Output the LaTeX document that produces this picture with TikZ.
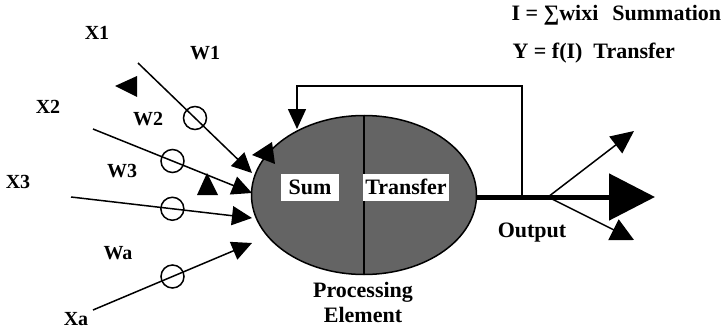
\documentclass[tikz,border=0pt]{standalone}
\usepackage{fontspec}
\setmainfont{Liberation Serif}
\usepackage{tikz}
\usetikzlibrary{shapes.geometric, arrows.meta}
\usepackage{xcolor}

\begin{document}
\begin{tikzpicture}[x=1pt, y=-1pt,
    inlabel/.style={font=\fontsize{20}{22}\selectfont\bfseries},
    biglabel/.style={font=\fontsize{22}{25}\selectfont\bfseries},
    weight/.style={draw, circle, line width=1.5pt, minimum size=23pt, inner sep=0pt},
    inarrow/.style={line width=1.5pt, -{Triangle[length=20pt, width=19pt]}}]
    % Define colors for the element
    \definecolor{pegrey}{RGB}{100,100,100}
    \useasboundingbox (0,0) rectangle (726,329);

    % Draw the processing element (grey ellipse split in two halves)
    \node[draw, ellipse, line width=1.5pt, fill=pegrey, minimum width=225pt, minimum height=159pt, inner sep=0pt] (pe) at (364,195) {};
    \draw[line width=1.5pt] (pe.north) -- (pe.south);

    % Sum and Transfer boxes inside the element
    \node[fill=white, biglabel, minimum width=58pt, minimum height=27pt, inner sep=0pt] (sum) at (310,187) {Sum};
    \node[fill=white, biglabel, minimum width=86pt, minimum height=27pt, inner sep=0pt] (transfer) at (406,187) {Transfer};

    % Label below the element
    \node[biglabel, align=center] (pelabel) at (363,302) {Processing\\Element};

    % Input start points and arrow tips
    \coordinate (x1s) at (138,63);  \coordinate (x1t) at (252,173);
    \coordinate (x2s) at (93,129);  \coordinate (x2t) at (252,193);
    \coordinate (x3s) at (71,197);  \coordinate (x3t) at (252,218);
    \coordinate (xas) at (93,310);  \coordinate (xat) at (252,243);

    % Draw the inputs with their weight circles
    \draw[inarrow] (x1s) -- node[weight, pos=0.5] (c1) {} (x1t);
    \draw[inarrow] (x2s) -- node[weight, pos=0.5] (c2) {} (x2t);
    \draw[inarrow] (x3s) -- node[weight, pos=0.56] (c3) {} (x3t);
    \draw[inarrow] (xas) -- node[weight, pos=0.5] (ca) {} (xat);

    % Input and weight labels
    \node[inlabel] (lx1) at (97,33) {X1};
    \node[inlabel] (lw1) at (205,53) {W1};
    \node[inlabel] (lx2) at (48,107) {X2};
    \node[inlabel] (lw2) at (148,119) {W2};
    \node[inlabel] (lw3) at (122,171) {W3};
    \node[inlabel] (lx3) at (18,182) {X3};
    \node[inlabel] (lwa) at (118,253) {Wa};
    \node[inlabel] (lxa) at (76,319) {Xa};

    % Loose arrow heads
    \fill (115,86) -- (137,76) -- (137,97) -- cycle;
    \fill (207,173) -- (197,195) -- (218,195) -- cycle;
    \fill (252,155) -- (272,142) -- (275,164) -- cycle;

    % Output line with its branches
    \coordinate (outtip) at (655,197);
    \coordinate (branch) at (548,197);
    \coordinate (up) at (634,131);
    \coordinate (down) at (634,240);
    \draw[line width=5pt, -{Triangle[length=46pt, width=46pt]}] (pe.east |- outtip) -- (outtip);
    \draw[line width=1.5pt, -{Triangle[length=23pt, width=21pt]}] (branch) -- (up);
    \draw[line width=1.5pt, -{Triangle[length=23pt, width=23pt]}] (branch) -- (down);
    \node[biglabel] (outlabel) at (532,233) {Output};

    % Feedback loop back to the element
    \coordinate (fb) at (522,197);
    \coordinate (fbtop) at (522,86);
    \coordinate (fbend) at (297,129);
    \draw[line width=1.5pt, -{Triangle[length=20pt, width=18pt]}] (fb) -- (fbtop) -| (fbend);

    % Formulas at the top right
    \node[biglabel, anchor=west] (fsum) at (508,15) {I = ∑wixi\hspace{14pt}Summation};
    \node[biglabel, anchor=west] (ftrans) at (509,53) {Y = f(I)\hspace{11pt}Transfer};

\end{tikzpicture}
\end{document}
